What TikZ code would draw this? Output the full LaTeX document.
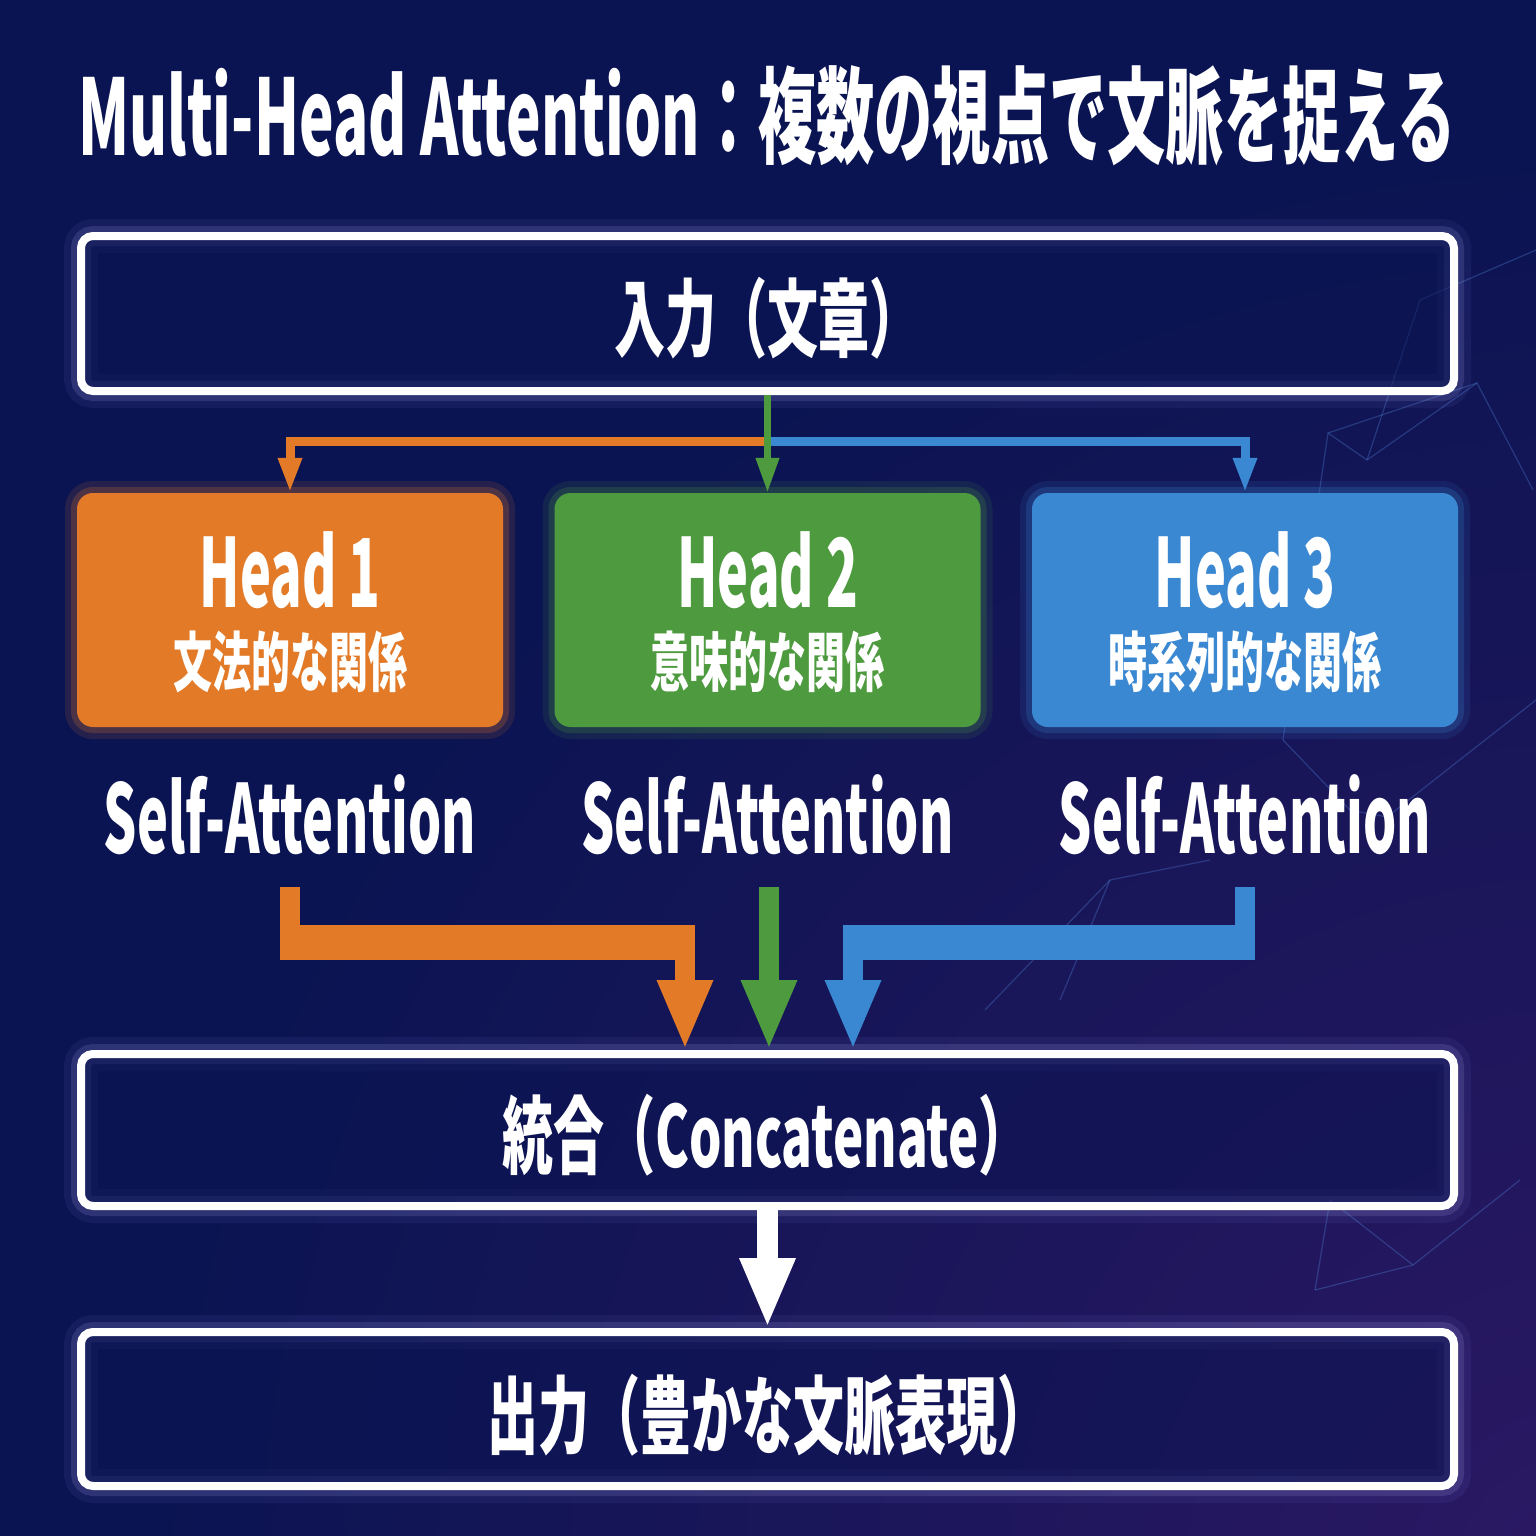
\documentclass[tikz,border=0pt]{standalone}
\usepackage{fontspec}
\newfontfamily\jp[FakeStretch=0.6]{Noto Sans CJK JP}
\newfontfamily\jpl[FakeStretch=0.55]{Noto Sans CJK JP}
\newfontfamily\jpt[FakeStretch=0.555]{Noto Sans CJK JP}
\usetikzlibrary{arrows.meta,calc}
\definecolor{bgA}{HTML}{0B1452}
\definecolor{bgB}{HTML}{2C1864}
\definecolor{ora}{HTML}{E27A28}
\definecolor{grn}{HTML}{4E9A3F}
\definecolor{blu}{HTML}{3A88D2}
\definecolor{net}{HTML}{4F7FD0}
\begin{document}
\begin{tikzpicture}[x=1pt,y=-1pt,
  txt/.style={text=white, inner sep=0pt},
  fbig/.style={font=\jpl\bfseries\fontsize{95}{100}\selectfont},
  fsub/.style={font=\jp\bfseries\fontsize{65}{70}\selectfont},
  fbox/.style={font=\jp\bfseries\fontsize{85}{90}\selectfont},
  outbox/.style={draw=white, line width=8pt, rounded corners=12pt, fill=bgA, fill opacity=0.55,
     minimum width=1373pt, inner sep=0pt,
     preaction={draw=white!60!blue, line width=34pt, opacity=0.07, fill opacity=0},
     preaction={draw=white!75!blue, line width=20pt, opacity=0.14, fill opacity=0}},
  headbox/.style={fill=#1, rounded corners=16pt, minimum width=426pt, minimum height=234pt, inner sep=0pt,
     preaction={draw=#1, line width=24pt, opacity=0.12},
     preaction={draw=#1, line width=12pt, opacity=0.22}},
  thin/.style={line width=#1, -{Triangle[width=22pt,length=35pt]}},
  fat/.style={line width=20pt, -{Triangle[width=51pt,length=70pt]}},
  netline/.style={net, line width=1.2pt, opacity=0.35}
]
% background
\fill[bgA] (0,0) rectangle (1536,1536);
\begin{scope}
  \clip (0,0) rectangle (1536,1536);
  \shade[inner color=bgB, outer color=bgA] (1600,1600) circle (1450);
\end{scope}
\useasboundingbox (0,0) rectangle (1536,1536);

% faint network lines
\draw[netline] (1283,740) -- (1328,433) -- (1367,460) -- (1477,383) -- (1533,490);
\draw[netline] (1328,433) -- (1477,383);
\draw[netline] (1367,460) -- (1420,300) -- (1536,250);
\draw[netline] (1350,810) -- (1387,817) -- (1536,700);
\draw[netline] (1283,740) -- (1350,810);
\draw[netline] (1315,1290) -- (1413,1265) -- (1520,1180);
\draw[netline] (1315,1290) -- (1330,1200) -- (1413,1265);
\draw[netline] (985,1010) -- (1110,880) -- (1210,860);
\draw[netline] (1110,880) -- (1060,1000);

% title
\node[txt, font=\jpt\bfseries\fontsize{105}{110}\selectfont, anchor=base] (title) at (767,155)
  {Multi-Head Attention：複数の視点で文脈を捉える};

% main boxes
\node[outbox, minimum height=155pt] (inp) at (767.5,313.5) {};
\node[txt, fbox] (inpt) at (767,318) {入力（文章）};

\node[headbox=ora] (h1) at (290,610) {};
\node[headbox=grn] (h2) at (767.5,610) {};
\node[headbox=blu] (h3) at (1245,610) {};

\node[txt, fbig] (h1t) at (290,570) {Head 1};
\node[txt, fbig] (h2t) at (767.5,570) {Head 2};
\node[txt, fbig] (h3t) at (1245,570) {Head 3};
\node[txt, fsub] (h1s) at (290,662) {文法的な関係};
\node[txt, fsub] (h2s) at (767.5,662) {意味的な関係};
\node[txt, fsub] (h3s) at (1245,662) {時系列的な関係};

\node[txt, fbig] (sa1) at (290,815) {Self-Attention};
\node[txt, fbig] (sa2) at (767.5,815) {Self-Attention};
\node[txt, fbig] (sa3) at (1245,815) {Self-Attention};

\node[outbox, minimum height=152pt] (cat) at (767.5,1130) {};
\node[txt, fbox] (catt) at (766,1135) {統合（Concatenate）};

\node[outbox, minimum height=154pt] (out) at (767.5,1409) {};
\node[txt, fbox] (outt) at (768,1415) {出力（豊かな文脈表現）};

% top connectors
\coordinate (sp) at ($(inp.south)+(0,46)$);
\draw[ora, thin=9pt] (sp) -| (h1.north);
\draw[blu, thin=9pt] (sp) -| (h3.north);
\draw[grn, thin=7pt] (inp.south) -- (h2.north);

% bottom connectors
\coordinate (o0) at ($(sa1.south)+(0,32)$);
\coordinate (o1) at ($(o0)+(395,55)$);
\draw[ora, line width=35pt] ($(o0 |- o1)+(-10,0)$) -- ($(o1)+(10,0)$);
\draw[ora, fat] (o0) |- (o1) -- (o1 |- cat.north);

\coordinate (b0) at ($(sa3.south)+(0,32)$);
\coordinate (b1) at ($(b0)+(-392,55)$);
\draw[blu, line width=35pt] ($(b1)+(-10,0)$) -- ($(b0 |- b1)+(10,0)$);
\draw[blu, fat] (b0) |- (b1) -- (b1 |- cat.north);

\draw[grn, fat] ($(sa2.south)+(1.5,32)$) -- ($(sa2.south |- cat.north)+(1.5,0)$);

\draw[white, line width=21pt, -{Triangle[width=51pt,length=70pt]}] (cat.south) -- (out.north);
\end{tikzpicture}
\end{document}
